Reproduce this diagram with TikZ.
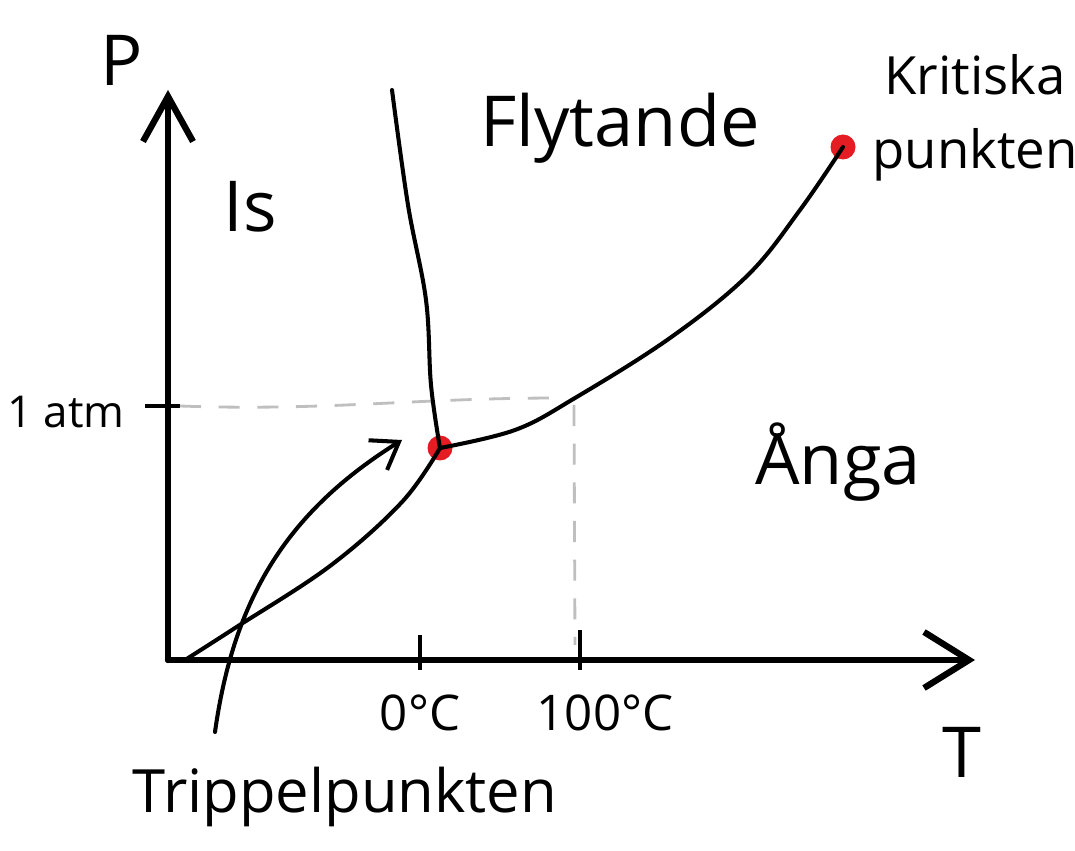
\documentclass[tikz,border=0pt]{standalone}
\usepackage{fontspec}
\setmainfont{Open Sans}
\usepackage{xcolor}
\definecolor{rojo}{RGB}{228, 28, 36}
\definecolor{gris75}{gray}{.75}
\usetikzlibrary{arrows.meta}

\begin{document}
\begin{tikzpicture}[
    x=0.1mm, y=-0.1mm,
    axis/.style={line width=1.8pt, line cap=round, line join=round},
    curve/.style={line width=1.15pt, line cap=round},
    guide/.style={gris75, line width=0.8pt, dash pattern=on 6pt off 5pt},
    tick/.style={line width=1pt},
    punto/.style={circle, fill=rojo, inner sep=0pt, minimum size=2.5mm},
    rotulo/.style={font=\fontsize{20}{22}\selectfont, inner sep=0pt},
    grado/.style={font=\fontsize{14}{16}\selectfont, inner sep=0pt}
  ]
    \useasboundingbox (0,0) rectangle (1075,851);

    % axes
    \coordinate (origo) at (168,660);
    \coordinate (ptop) at (168,90);
    \coordinate (tend) at (975,660);
    \draw[axis, -{Straight Barb[length=4.5mm, width=5mm, line width=1.8pt]}] (origo) -- (ptop);
    \draw[axis, -{Straight Barb[length=4.5mm, width=5.6mm, line width=1.8pt]}] (origo) -- (tend);
    \node[rotulo] (P) at (122,60) {P};
    \node[rotulo] (T) at (962,752) {T};

    % ticks
    \coordinate (atmA) at (145,406);
    \coordinate (atmB) at (180,406);
    \draw[tick] (atmA) -- (atmB);
    \coordinate (noll) at (420,660);
    \coordinate (hundra) at (580,660);
    \draw[tick] ([yshift=2.5mm]noll) -- ([yshift=-1mm]noll);
    \draw[tick] ([yshift=3mm]hundra) -- ([yshift=-1mm]hundra);
    \node[font=\fontsize{12.5}{14}\selectfont, inner sep=0pt] (atm) at (66,412) {1 atm};
    \node[grado] (c0) at (420,713) {0°C};
    \node[grado] (c100) at (605,713) {100°C};

    % points
    \node[punto] (tp) at (440,448) {};
    \node[punto] (kp) at (843,147) {};

    % dashed guides
    \coordinate (g1) at (560,398);
    \coordinate (g2) at (574,405);
    \coordinate (g3) at (575,645);
    \draw[guide] (atmB) to[out=-2,in=180] (g1);
    \draw[guide] (g2) -- (g3);

    % phase boundaries
    \coordinate (smalt) at (392,90);
    \coordinate (subl) at (185,660);
    \draw[curve] plot[smooth, tension=0.6] coordinates {(tp) (431,385) (426,300) (408,205) (smalt)};
    \draw[curve] plot[smooth, tension=0.6] coordinates {(subl) (235,628) (330,566) (402,502) (tp)};
    \draw[curve] plot[smooth, tension=0.6] coordinates {(tp) (515,430) (575,398) (670,338) (748,275) (800,210) (kp)};

    % labels
    \node[rotulo] (is) at (250,207) {Is};
    \node[rotulo] (flyt) at (620,128) {Flytande};
    \node[font=\fontsize{15}{21}\selectfont, align=center, inner sep=0pt] (krit) at (975,118) {Kritiska\\punkten};
    \node[rotulo] (anga) at (838,462) {Ånga};
    \node[font=\fontsize{17}{19}\selectfont, inner sep=0pt] (trip) at (345,797) {Trippelpunkten};

    % arrow to triple point
    \coordinate (pil0) at (215,732);
    \coordinate (pil1) at (402,440);
    \draw[curve, -{Straight Barb[length=2.5mm, width=3.5mm]}] (pil0) to[out=82,in=212] (pil1);
  \end{tikzpicture}
\end{document}
